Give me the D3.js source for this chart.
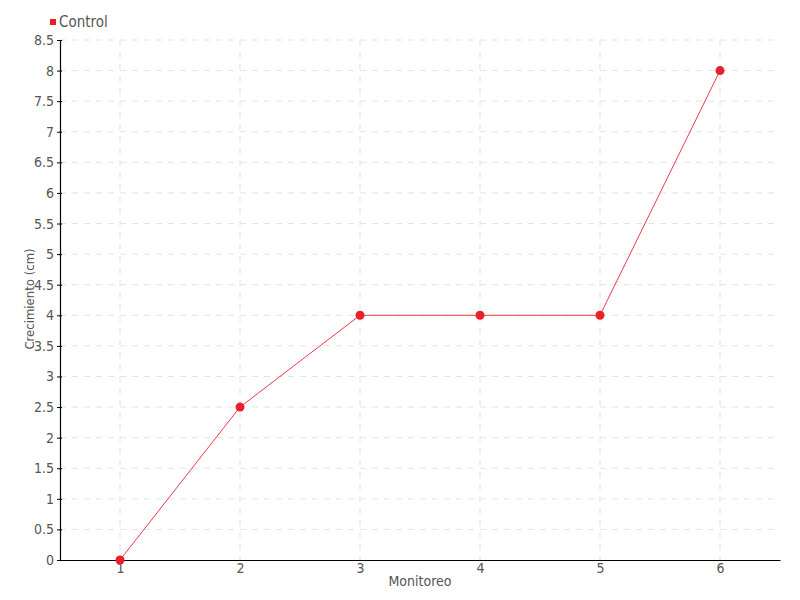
<!DOCTYPE html>
<html>
<head>
<meta charset="utf-8">
<script src="https://cdn.jsdelivr.net/npm/d3@7"></script>
<style>
  body { margin: 0; background: #fff; }
  text { font-family: "DejaVu Sans Condensed", "DejaVu Sans", sans-serif; font-stretch: condensed; }
</style>
</head>
<body>
<div id="root"></div>
<script>
var monitoreo = [1, 2, 3, 4, 5, 6];
var control = [0, 2.5, 4, 4, 4, 8];
var yTicks = d3.range(0, 8.51, 0.5);

var width = 800;
var height = 600;
var margin = {left: 60, right: 20, top: 40, bottom: 40};

var svg = d3.select('#root')
  .append('svg')
    .attr('width', width)
    .attr('height', height);

var x = d3.scaleLinear()
  .domain([0.5, 6.5])
  .range([margin.left, width - margin.right]);

var y = d3.scaleLinear()
  .domain([0, 8.5])
  .range([height - margin.bottom, margin.top]);

// grid
svg.append('g')
  .selectAll('line')
  .data(yTicks.slice(1))
  .enter()
  .append('line')
    .attr('x1', margin.left)
    .attr('x2', width - margin.right)
    .attr('y1', function(d) { return y(d); })
    .attr('y2', function(d) { return y(d); })
    .attr('stroke', '#e3e3e3')
    .attr('stroke-dasharray', '6,6');

svg.append('g')
  .selectAll('line')
  .data(monitoreo)
  .enter()
  .append('line')
    .attr('x1', function(d) { return x(d); })
    .attr('x2', function(d) { return x(d); })
    .attr('y1', margin.top)
    .attr('y2', height - margin.bottom)
    .attr('stroke', '#e3e3e3')
    .attr('stroke-dasharray', '6,6');

// axes
var xAxis = svg.append('g')
  .attr('transform', 'translate(0,' + (height - margin.bottom) + ')')
  .call(d3.axisBottom(x).tickValues(monitoreo).tickSize(0).tickSizeOuter(0).tickPadding(3)
    .tickFormat(d3.format('d')));
xAxis.select('.domain').attr('stroke', '#000').attr('stroke-width', 1.2);
xAxis.selectAll('.tick text')
  .attr('fill', '#555')
  .attr('font-size', 14);

var yAxis = svg.append('g')
  .attr('transform', 'translate(' + margin.left + ',0)')
  .call(d3.axisLeft(y).tickValues(yTicks).tickSize(4).tickSizeOuter(0).tickPadding(2)
    .tickFormat(function(d) { return d3.format('')(d); }));
yAxis.select('.domain').attr('stroke', '#000').attr('stroke-width', 1.2);
yAxis.selectAll('.tick line').attr('stroke', '#000').attr('x2', 2).attr('x1', -3);
yAxis.selectAll('.tick text')
  .attr('fill', '#555')
  .attr('font-size', 14);

// axis titles
svg.append('text')
  .attr('x', 420)
  .attr('y', 586)
  .attr('text-anchor', 'middle')
  .attr('fill', '#555')
  .attr('font-size', 14)
  .text('Monitoreo');

svg.append('text')
  .attr('transform', 'translate(34,299) rotate(-90)')
  .attr('text-anchor', 'middle')
  .attr('fill', '#555')
  .attr('font-size', 13)
  .text('Crecimiento (cm)');

// line and points
var line = d3.line()
  .x(function(d, i) { return x(monitoreo[i]); })
  .y(function(d) { return y(d); });

svg.append('path')
  .datum(control)
  .attr('d', line)
  .attr('fill', 'none')
  .attr('stroke', '#f2384a')
  .attr('stroke-width', 1);

svg.append('g')
  .selectAll('circle')
  .data(control)
  .enter()
  .append('circle')
    .attr('cx', function(d, i) { return x(monitoreo[i]); })
    .attr('cy', function(d) { return y(d); })
    .attr('r', 4.5)
    .attr('fill', '#e8202a');

// legend
svg.append('rect')
  .attr('x', 50)
  .attr('y', 19)
  .attr('width', 6)
  .attr('height', 6)
  .attr('fill', '#e8202a');

svg.append('text')
  .attr('x', 59)
  .attr('y', 27)
  .attr('fill', '#555')
  .attr('font-size', 15)
  .text('Control');
</script>
</body>
</html>
